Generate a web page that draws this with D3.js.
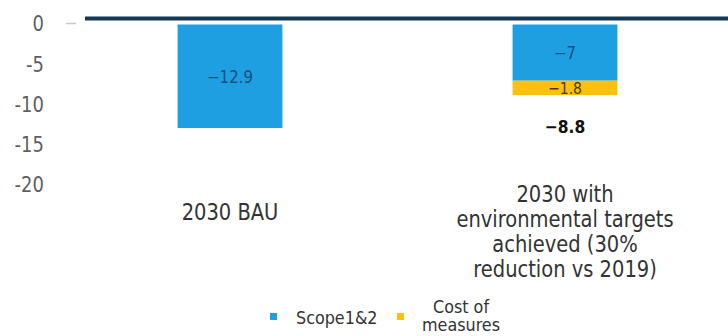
<!DOCTYPE html>
<html>
<head>
<meta charset="utf-8">
<script src="https://cdn.jsdelivr.net/npm/d3@7"></script>
<style>
  html, body { margin: 0; padding: 0; background: #ffffff; }
  svg { display: block; }
  text { font-family: "DejaVu Sans", Verdana, sans-serif; }
</style>
</head>
<body>
<svg id="chart" width="728" height="336"></svg>
<script>
// Categories (one entry per bar, wrapped label lines kept alongside)
const categories = ["2030 BAU", "2030 with environmental targets achieved (30% reduction vs 2019)"];
const categoryLines = [
  ["2030 BAU"],
  ["2030 with", "environmental targets", "achieved (30%", "reduction vs 2019)"]
];

// Series values (stacked downward)
const seriesNames = ["Scope1&2", "Cost of measures"];
const scope12 = [-12.9, -7];
const costOfMeasures = [0, -1.8];
const totals = [null, -8.8];

// Y axis tick values
const yTicks = [0, -5, -10, -15, -20];

const colors = { "Scope1&2": "#1e9fe2", "Cost of measures": "#fbc10c" };
const labelColors = { "Scope1&2": "#1d4f7c", "Cost of measures": "#4a3b00" };
const STRETCH = 1.15;

const svg = d3.select("#chart");

const x = d3.scaleBand().domain(categories).range([62.5, 732.5]).padding(0);
const y = d3.scaleLinear().domain([0, -20]).range([24.5, 185]);
const barW = x.bandwidth() * 0.313;

// text helper: slightly tall glyphs
function label(g, tx, ty, str, opts) {
  return g.append("text")
    .attr("transform", `translate(${tx},${ty}) scale(1,${opts.stretch || STRETCH})`)
    .attr("text-anchor", opts.anchor || "middle")
    .attr("dominant-baseline", opts.baseline || "auto")
    .style("font-size", opts.size + "px")
    .style("font-weight", opts.weight || "normal")
    .attr("fill", opts.fill || "#333")
    .text(str);
}

// Y axis tick labels
const yAxis = svg.append("g").attr("class", "y-axis");
yTicks.forEach(t => {
  label(yAxis, 44, y(t), String(t), { size: 18, anchor: "end", baseline: "central", fill: "#5f5f5f" });
});
// short tick stub at zero
yAxis.append("line")
  .attr("x1", 66).attr("x2", 76)
  .attr("y1", y(0) - 1).attr("y2", y(0) - 1)
  .attr("stroke", "#c8c8c8").attr("stroke-width", 1.5);

// Stacked bars
const rows = categories.map((c, i) => ({ cat: c, "Scope1&2": scope12[i], "Cost of measures": costOfMeasures[i] }));
const stack = d3.stack().keys(seriesNames).offset(d3.stackOffsetDiverging);
const stacked = stack(rows);

const bars = svg.append("g").attr("class", "bars");
stacked.forEach(layer => {
  layer.forEach((seg, i) => {
    const v = seg.data[layer.key];
    if (!v) return;
    const y0 = y(seg[1]), y1 = y(seg[0]);
    const top = Math.min(y0, y1), h = Math.abs(y1 - y0);
    const cx = x(seg.data.cat) + x.bandwidth() / 2;
    bars.append("rect")
      .attr("x", cx - barW / 2).attr("y", top)
      .attr("width", barW).attr("height", h)
      .attr("fill", colors[layer.key]);
    label(bars, cx, top + h / 2 + 1, String(v).replace("-", "\u2212"),
      { size: layer.key === "Scope1&2" ? 15 : 14, baseline: "central", fill: labelColors[layer.key] });
  });
});

// Total labels under stacks
totals.forEach((t, i) => {
  if (t == null) return;
  const cx = x(categories[i]) + x.bandwidth() / 2;
  label(svg, cx, y(t) + 31, String(t).replace("-", "\u2212"),
    { size: 15.5, weight: "bold", baseline: "central", fill: "#111" });
});

// Zero rule across the plot
svg.append("line")
  .attr("x1", 85).attr("x2", 728)
  .attr("y1", y(0) - 6).attr("y2", y(0) - 6)
  .attr("stroke", "#133c54").attr("stroke-width", 4);

// Category labels
const catG = svg.append("g").attr("class", "categories");
categoryLines.forEach((lines, i) => {
  const cx = x(categories[i]) + x.bandwidth() / 2;
  const first = lines.length === 1 ? 220 : 202;
  lines.forEach((ln, j) => {
    label(catG, cx, first + j * 25, ln, { size: 19.5, fill: "#333" });
  });
});

// Legend
const legend = svg.append("g").attr("class", "legend");
const legendItems = [
  { key: "Scope1&2", sx: 270, tx: 296, lines: ["Scope1&2"] },
  { key: "Cost of measures", sx: 397, tx: 461, lines: ["Cost of", "measures"] }
];
legendItems.forEach(it => {
  legend.append("rect")
    .attr("x", it.sx).attr("y", 313).attr("width", 7).attr("height", 7)
    .attr("fill", colors[it.key]);
  if (it.lines.length === 1) {
    label(legend, it.tx, 318, it.lines[0], { size: 16, anchor: "start", baseline: "central", fill: "#333", stretch: 1.08 });
  } else {
    it.lines.forEach((ln, j) => {
      label(legend, it.tx, 307 + j * 18, ln, { size: 16, anchor: "middle", baseline: "central", fill: "#333", stretch: 1.08 });
    });
  }
});
</script>
</body>
</html>
